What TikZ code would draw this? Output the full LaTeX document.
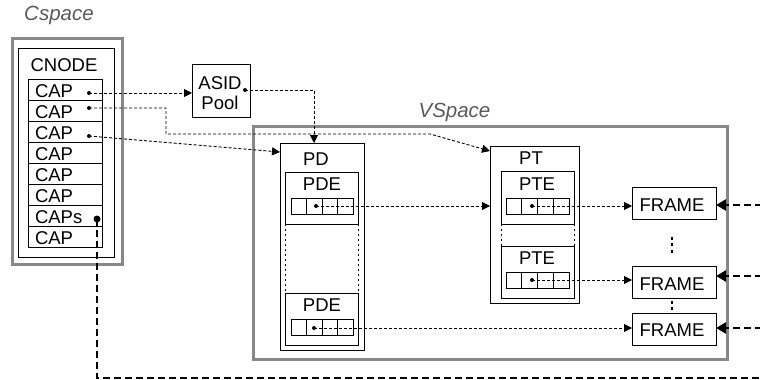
\documentclass[tikz,border=0pt]{standalone}
\usepackage{fontspec}
\setmainfont{Liberation Sans}
\usetikzlibrary{arrows.meta,fit,calc}
\definecolor{boxgray}{RGB}{136,136,136}
\definecolor{labelgray}{RGB}{90,90,90}
\begin{document}
\begin{tikzpicture}[x=1pt,y=-1pt,
  every node/.style={inner sep=0pt, outer sep=0pt},
  graybox/.style={draw=boxgray, line width=3pt},
  blackbox/.style={draw=black, line width=1pt},
  txt/.style={anchor=base, font=\fontsize{18.5}{20}\selectfont},
  lbl/.style={anchor=base, font=\fontsize{20.5}{22}\selectfont\itshape, text=labelgray},
  ptr/.style={line width=0.9pt, dash pattern=on 3pt off 2pt, -{Triangle[length=8pt,width=8pt]}},
  bigptr/.style={line width=2.5pt, dash pattern=on 7pt off 4pt, -{Triangle[length=10pt,width=11pt]}},
  bigline/.style={line width=2.5pt, dash pattern=on 7pt off 4pt},
  vdots/.style={dash pattern=on 2pt off 3pt, line width=0.9pt},
  dotc/.style={fill=black, circle, minimum size=4pt},
  bigdot/.style={fill=black, circle, minimum size=7pt},
  fdot/.style={fill=black, rectangle, minimum width=2.6pt, minimum height=3pt},
]
\useasboundingbox (0,0) rectangle (760,380);

% ---- Cspace ----
\node[lbl] (cspacelbl) at (59,20.7) {Cspace};
\node[graybox, fit={(12,38) (122,264)}] (cspace) {};
\node[blackbox, fit={(18,48) (114,257)}] (cnode) {};
\node[txt] (cnodelbl) at (64,71.5) {CNODE};
\foreach \i/\t in {1/CAP,2/CAP,3/CAP,4/CAP,5/CAP,6/CAP,7/CAPs,8/CAP} {
  \node[blackbox, fit={(28,{79+21*(\i-1)}) (102,{100+21*(\i-1)})}] (cap\i) {};
  \node[txt, anchor=base west] (captxt\i) at (35,{97.5+21*(\i-1)}) {\t};
}
\node[dotc] (cap1dot) at (89,93) {};
\node[dotc] (cap2dot) at (89,108) {};
\node[dotc] (cap3dot) at (89,136) {};
\node[bigdot] (capsdot) at (97,219) {};

% ---- ASID pool ----
\node[blackbox, fit={(192,64) (250,117)}] (asid) {};
\node[txt] (asidtxt) at (220,89.3) {ASID};
\node[txt] (pooltxt) at (220,109.3) {Pool};
\node[dotc] (asiddot) at (245,90) {};

% ---- VSpace ----
\node[lbl] (vspacelbl) at (454.5,117.7) {VSpace};
\node[graybox, fit={(253,126) (727,359)}] (vspace) {};

% PD
\node[blackbox, fit={(280,143) (364,350)}] (pd) {};
\node[txt] (pdtxt) at (316,165) {PD};
\node[blackbox, fit={(285,172) (358,224)}] (pdeA) {};
\node[txt] (pdeAtxt) at (322,190.7) {PDE};
\node[blackbox, fit={(285,293) (358,345)}] (pdeB) {};
\node[txt] (pdeBtxt) at (322,311.7) {PDE};
\foreach \i/\xl in {1/291,2/306.5,3/322,4/337.5} {
  \node[blackbox, fit={(\xl,198) (\xl+15.5,214)}] (pdeAc\i) {};
  \node[blackbox, fit={(\xl,319) (\xl+15.5,335)}] (pdeBc\i) {};
}
\node[dotc] (pdeAdot) at (316,206) {};
\node[dotc] (pdeBdot) at (314,328) {};
\draw[vdots] (pdeA.south west) -- (pdeB.north west);
\draw[vdots] (pdeA.south east) -- (pdeB.north east);

% PT
\node[blackbox, fit={(490,146) (579,303)}] (pt) {};
\node[txt] (pttxt) at (531,164.3) {PT};
\node[blackbox, fit={(501,171) (574,224)}] (pteA) {};
\node[txt] (pteAtxt) at (537,190) {PTE};
\node[blackbox, fit={(501,246) (574,298)}] (pteB) {};
\node[txt] (pteBtxt) at (537,264.3) {PTE};
\foreach \i/\xl in {1/506,2/521.75,3/537.5,4/553.25} {
  \node[blackbox, fit={(\xl,198) (\xl+15.75,214)}] (pteAc\i) {};
  \node[blackbox, fit={(\xl,272) (\xl+15.75,288)}] (pteBc\i) {};
}
\node[dotc] (pteAdot) at (532,206) {};
\node[dotc] (pteBdot) at (532,280) {};
\draw[vdots] (pteA.south west) -- (pteB.north west);
\draw[vdots] (pteA.south east) -- (pteB.north east);

% FRAMES
\node[blackbox, fit={(632,187) (716,219)}] (frameA) {};
\node[txt] (frameAtxt) at (672,211.7) {FRAME};
\node[blackbox, fit={(632,266) (716,298)}] (frameB) {};
\node[txt] (frameBtxt) at (672,290) {FRAME};
\node[blackbox, fit={(632,313) (716,345)}] (frameC) {};
\node[txt] (frameCtxt) at (672,336.7) {FRAME};
\node[fdot] (fd1) at (672,238) {};
\node[fdot] (fd2) at (672,244.5) {};
\node[fdot] (fd3) at (672,251) {};
\node[fdot] (fd4) at (672,302.5) {};
\node[fdot] (fd5) at (672,308.5) {};

% ---- connectors ----
\coordinate (pdin) at (314,143);
\coordinate (pdleft) at (280,152);
\coordinate (c2a) at (166,108);
\coordinate (c2b) at (166,134);
\coordinate (c2c) at (430,134);
\coordinate (ptin) at (490,151);
\draw[ptr] (cap1dot.center) -- (cap1dot -| asid.west);
\draw[ptr] (asiddot.center) -| (pdin);
\draw[ptr] (cap2dot.center) -- (c2a) -- (c2b) -- (c2c) -- (ptin);
\draw[ptr] (cap3dot.center) -- (pdleft);
\draw[ptr] (pdeAdot.center) -- (pdeAdot -| pt.west);
\draw[ptr] (pteAdot.center) -- (pteAdot -| frameA.west);
\draw[ptr] (pteBdot.center) -- (pteBdot -| frameB.west);
\draw[ptr] (pdeBdot.center) -- (pdeBdot -| frameC.west);

\coordinate (rA) at (762,205);
\coordinate (rB) at (762,276);
\coordinate (rC) at (762,328);
\draw[bigptr] (rA) -- (rA -| frameA.east);
\draw[bigptr] (rB) -- (rB -| frameB.east);
\draw[bigptr] (rC) -- (rC -| frameC.east);

\coordinate (botbend) at (97,378);
\coordinate (botend) at (764,378);
\draw[bigline] (capsdot.center) -- (botbend) -- (botend);
\end{tikzpicture}
\end{document}
